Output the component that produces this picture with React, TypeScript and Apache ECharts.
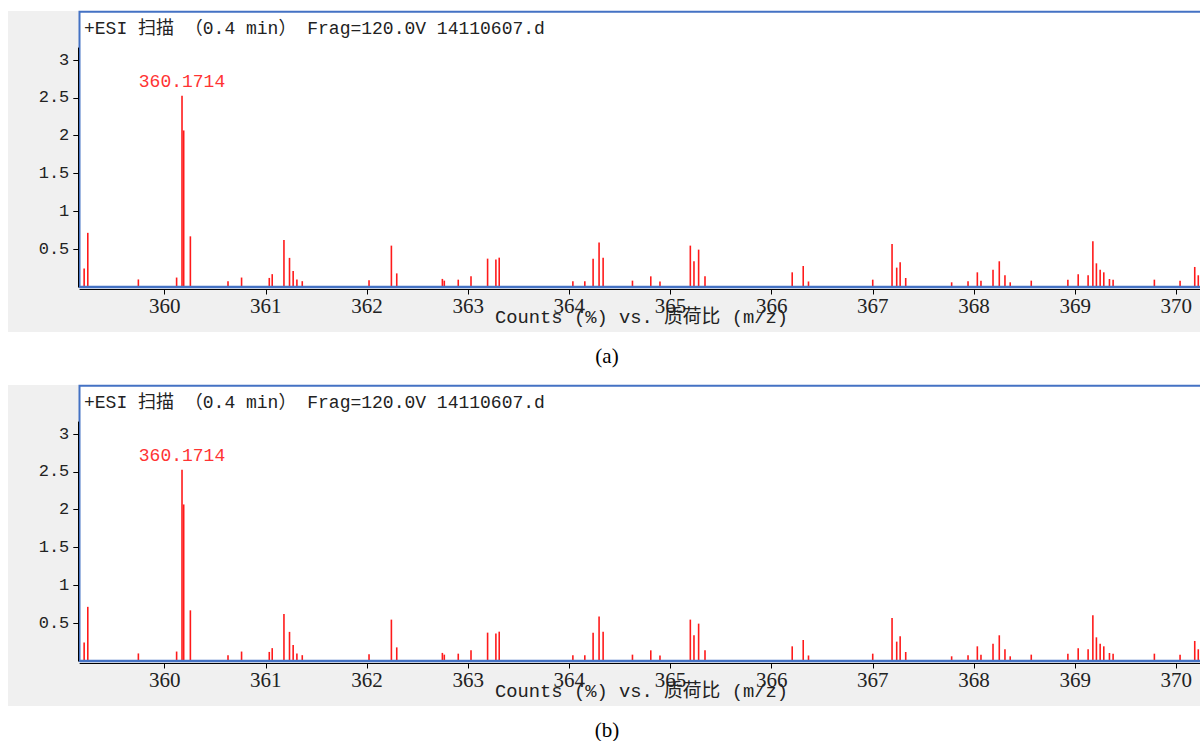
import React, { useEffect, useRef } from "react";
import * as echarts from "echarts";

// ---- data ----
const MZ = [
  359.204, 359.24, 359.74, 360.118, 360.1714, 360.188, 360.254, 360.626, 360.76,
  361.034, 361.063, 361.179, 361.234, 361.27, 361.307, 361.36, 362.02, 362.241,
  362.294, 362.745, 362.764, 362.902, 363.028, 363.192, 363.274, 363.307, 364.035,
  364.153, 364.235, 364.294, 364.334, 364.624, 364.805, 364.896, 365.196, 365.232,
  365.278, 365.341, 366.203, 366.312, 366.364, 366.999, 367.19, 367.236, 367.27,
  367.325, 367.779, 367.941, 368.033, 368.069, 368.188, 368.25, 368.306, 368.358,
  368.566, 368.928, 369.03, 369.128, 369.175, 369.21, 369.247, 369.283, 369.339,
  369.375, 369.783, 370.037, 370.182, 370.217,
];
const INTENSITY = [
  0.245, 0.716, 0.1, 0.125, 2.53, 2.07, 0.67, 0.077, 0.125,
  0.12, 0.17, 0.62, 0.385, 0.21, 0.1, 0.077, 0.09, 0.547,
  0.18, 0.107, 0.084, 0.097, 0.141, 0.375, 0.362, 0.388, 0.075,
  0.075, 0.375, 0.59, 0.388, 0.084, 0.141, 0.073, 0.547, 0.34,
  0.494, 0.141, 0.194, 0.278, 0.073, 0.097, 0.569, 0.256, 0.326,
  0.119, 0.062, 0.075, 0.194, 0.084, 0.229, 0.34, 0.155, 0.062,
  0.084, 0.097, 0.168, 0.155, 0.604, 0.313, 0.229, 0.194, 0.106,
  0.097, 0.097, 0.084, 0.265, 0.155,
];
const BASE_PEAK = 360.1714;
const X_TICKS = [360, 361, 362, 363, 364, 365, 366, 367, 368, 369, 370];
const Y_TICKS = [0.5, 1, 1.5, 2, 2.5, 3];
const X_MIN = 359.163;
const X_MAX = 370.234;
const Y_MAX = 3.16;
const TITLE = "+ESI 扫描 （0.4 min） Frag=120.0V 14110607.d";
const X_NAME = "Counts (%) vs. 质荷比 (m/z)";
const CAPTIONS = ["(a)", "(b)"];

const MONO = '"Liberation Mono", "Noto Sans CJK SC", monospace';
const SERIF = '"Liberation Serif", serif';

export default function App() {
  const ref = useRef<HTMLDivElement>(null);

  useEffect(() => {
    if (!ref.current) return;
    const chart = echarts.init(ref.current, undefined, { renderer: "svg" });

    const offsets = [0, 374];
    const grids: any[] = [];
    const xAxes: any[] = [];
    const yAxes: any[] = [];
    const series: any[] = [];
    const graphics: any[] = [];

    const peakData = MZ.map((m, i) => {
      if (m === BASE_PEAK) {
        return {
          value: [m, INTENSITY[i]],
          label: {
            show: true,
            position: "top",
            distance: 5,
            formatter: () => BASE_PEAK.toFixed(4),
            color: "#ff3333",
            fontFamily: MONO,
            fontSize: 18,
          },
        };
      }
      return { value: [m, INTENSITY[i]] };
    });

    offsets.forEach((dy, idx) => {
      grids.push({ left: 80, top: 48 + dy, width: 1120, height: 239, show: false });
      xAxes.push({
        type: "value",
        gridIndex: idx,
        min: X_MIN,
        max: X_MAX,
        offset: 2.5,
        axisLine: { show: true, onZero: false, lineStyle: { color: "#000", width: 1 } },
        axisTick: { show: true, inside: false, length: 5, customValues: X_TICKS, lineStyle: { color: "#000" } },
        axisLabel: {
          customValues: X_TICKS,
          margin: 6,
          color: "#222",
          fontFamily: SERIF,
          fontSize: 21,
          formatter: (v: number) => String(Math.round(v)),
        },
        splitLine: { show: false },
      });
      yAxes.push({
        type: "value",
        gridIndex: idx,
        min: 0,
        max: Y_MAX,
        offset: 1.7,
        axisLine: { show: true, lineStyle: { color: "#000", width: 1 } },
        axisTick: { show: true, inside: false, length: 5, customValues: Y_TICKS, lineStyle: { color: "#000" } },
        axisLabel: {
          customValues: Y_TICKS,
          margin: 9,
          color: "#222",
          fontFamily: MONO,
          fontSize: 17,
          formatter: (v: number) => String(v),
        },
        splitLine: { show: false },
      });
      series.push({
        type: "bar",
        xAxisIndex: idx,
        yAxisIndex: idx,
        barWidth: 1.6,
        itemStyle: { color: "#ff1a1a" },
        data: peakData,
        z: 3,
      });

      graphics.push(
        {
          type: "rect",
          z: -20,
          shape: { x: 8, y: 11 + dy, width: 1192, height: 321 },
          style: { fill: "#f0f0f0" },
        },
        {
          type: "rect",
          z: -10,
          shape: { x: 79.5, y: 11.7 + dy, width: 1130, height: 275.3 },
          style: { fill: "#ffffff", stroke: "#4472c4", lineWidth: 2 },
        },
        {
          type: "line",
          z: 50,
          shape: { x1: 79.5, y1: 287 + dy, x2: 1200, y2: 287 + dy },
          style: { stroke: "#4472c4", lineWidth: 2.5 },
        },
        {
          type: "text",
          z: 50,
          x: 84,
          y: 28.5 + dy,
          style: {
            text: TITLE,
            font: `18px ${MONO}`,
            fill: "#222",
            textAlign: "left",
            textVerticalAlign: "middle",
          },
        },
        {
          type: "text",
          z: 50,
          x: 641.5,
          y: 317.5 + dy,
          style: {
            text: X_NAME,
            font: `18.8px ${MONO}`,
            fill: "#222",
            textAlign: "center",
            textVerticalAlign: "middle",
          },
        },
        {
          type: "text",
          z: 50,
          x: 607,
          y: 356 + dy,
          style: {
            text: CAPTIONS[idx],
            font: `21px ${SERIF}`,
            fill: "#000",
            textAlign: "center",
            textVerticalAlign: "middle",
          },
        }
      );
    });

    chart.setOption({
      animation: false,
      backgroundColor: "#ffffff",
      grid: grids,
      xAxis: xAxes,
      yAxis: yAxes,
      series,
      graphic: { elements: graphics },
    });

    return () => chart.dispose();
  }, []);

  return (
    <div
      ref={ref}
      style={{ position: "absolute", left: 0, top: 0, width: 1200, height: 741 }}
    />
  );
}
